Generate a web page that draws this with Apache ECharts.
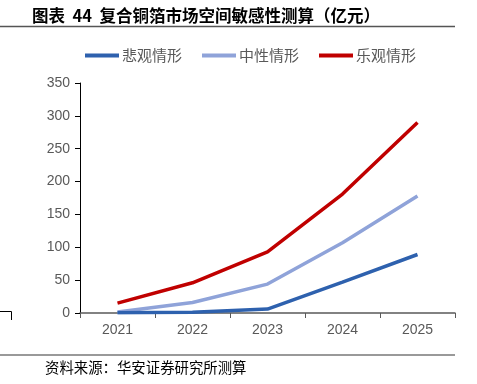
<!DOCTYPE html>
<html><head><meta charset="utf-8">
<script src="https://cdn.jsdelivr.net/npm/echarts@6/dist/echarts.min.js"></script>
<style>html,body{margin:0;padding:0;background:#fff}#c{width:477px;height:384px}</style>
</head><body><div id="c"></div>
<script>
var categories = ['2021','2022','2023','2024','2025'];
var pessimistic = [0.5, 1, 6, 47, 89];
var neutral = [1.5, 16, 44, 107, 178];
var optimistic = [15, 46, 93, 181, 290];
var seriesNames = ['悲观情形','中性情形','乐观情形'];
var yTicks = {min:0, max:350, interval:50};

var chart = echarts.init(document.getElementById('c'));
var ff = '"Noto Sans CJK SC", "Liberation Sans", sans-serif';
chart.setOption({
  animation:false,
  textStyle:{fontFamily:ff},
  title:{text:'图表  44  复合铜箔市场空间敏感性测算（亿元）', left:27, top:2,
    textStyle:{fontSize:16.5, fontWeight:'bold', color:'#000', fontFamily:ff}},
  legend:{top:43, left:80, itemWidth:34, itemHeight:4, itemGap:20,
    icon:'rect',
    textStyle:{fontSize:15, color:'#595959', fontFamily:ff, padding:[0,0,0,-2]},
    data:seriesNames},
  grid:{left:80, right:22, top:83, bottom:71, containLabel:false},
  xAxis:{type:'category', data:categories, boundaryGap:true,
    axisLine:{lineStyle:{color:'#595959', width:1.5}},
    axisTick:{show:true, length:5, lineStyle:{color:'#595959'}},
    axisLabel:{fontSize:14, color:'#595959', margin:10, fontFamily:'"Liberation Sans", sans-serif'}},
  yAxis:{type:'value', min:yTicks.min, max:yTicks.max, interval:yTicks.interval,
    axisLine:{show:true, lineStyle:{color:'#000', width:1}},
    axisTick:{show:true, length:5, lineStyle:{color:'#000'}},
    splitLine:{show:false},
    axisLabel:{fontSize:14, color:'#595959', margin:10, fontFamily:'"Liberation Sans", sans-serif'}},
  graphic:[
    {type:'line', shape:{x1:0,y1:26.5,x2:455,y2:26.5}, style:{stroke:'#555', lineWidth:1.5}},
    {type:'line', shape:{x1:0,y1:355,x2:455,y2:355}, style:{stroke:'#999', lineWidth:2}},
    {type:'polyline', shape:{points:[[0,311.5],[11.5,311.5],[11.5,320]]}, style:{stroke:'#000', lineWidth:1, fill:null}},
    {type:'text', left:45, top:360, style:{text:'资料来源：华安证券研究所测算', fill:'#000', font:'14.4px '+ff}}
  ],
  series:[
    {name:seriesNames[0], type:'line', data:pessimistic, symbol:'none', lineStyle:{width:3.5, color:'#2E61AE'}, itemStyle:{color:'#2E61AE'}, z:3},
    {name:seriesNames[1], type:'line', data:neutral, symbol:'none', lineStyle:{width:3.5, color:'#8FA3D9'}, itemStyle:{color:'#8FA3D9'}, z:2},
    {name:seriesNames[2], type:'line', data:optimistic, symbol:'none', lineStyle:{width:3.5, color:'#C00000'}, itemStyle:{color:'#C00000'}, z:1}
  ]
});
</script></body></html>
